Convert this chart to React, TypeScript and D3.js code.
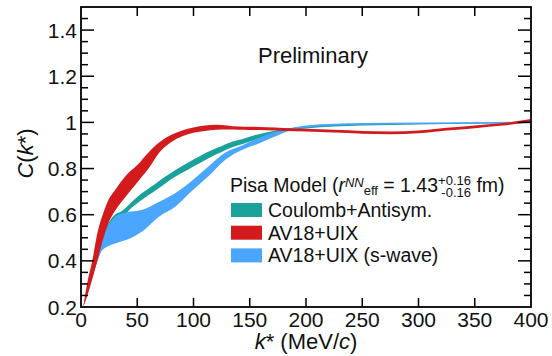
import React from 'react';
import * as d3 from 'd3';

// Coulomb+Antisym. band
const kTeal = [2, 10, 20, 30, 36, 45, 54, 65, 75, 84, 95, 105, 113, 125, 135, 143, 155, 172, 185, 200, 250, 300, 350, 400];
const tealLow = [0.2, 0.33, 0.47, 0.56, 0.585, 0.63, 0.664, 0.7, 0.735, 0.765, 0.795, 0.822, 0.844, 0.872, 0.893, 0.905, 0.925, 0.952, 0.966, 0.974, 0.986, 0.991, 0.994, 0.997];
const tealHigh = [0.2, 0.37, 0.52, 0.6, 0.615, 0.655, 0.693, 0.73, 0.765, 0.794, 0.825, 0.852, 0.873, 0.898, 0.917, 0.927, 0.945, 0.964, 0.975, 0.983, 0.993, 0.997, 0.999, 1.002];

// AV18+UIX (s-wave) band
const kBlue = [2, 10, 18, 25, 33, 40, 54, 69, 84, 98, 113, 128, 143, 158, 172, 187, 200, 250, 300, 350, 400];
const blueLow = [0.2, 0.33, 0.44, 0.465, 0.48, 0.49, 0.526, 0.59, 0.635, 0.7, 0.765, 0.837, 0.88, 0.909, 0.938, 0.967, 0.978, 0.99, 0.993, 0.995, 0.997];
const blueHigh = [0.2, 0.37, 0.5, 0.56, 0.6, 0.61, 0.62, 0.655, 0.694, 0.745, 0.808, 0.868, 0.9, 0.932, 0.958, 0.975, 0.987, 0.997, 0.999, 1.001, 1.003];

// AV18+UIX band
const kRed = [2, 5, 10, 15, 20, 25, 30, 40, 50, 60, 70, 80, 90, 100, 110, 120, 130, 140, 150, 165, 180, 200, 225, 250, 275, 300, 325, 350, 375, 400];
const redLow = [0.2, 0.24, 0.32, 0.41, 0.5, 0.57, 0.615, 0.68, 0.74, 0.8, 0.872, 0.914, 0.94, 0.955, 0.963, 0.968, 0.969, 0.968, 0.967, 0.966, 0.963, 0.96, 0.956, 0.951, 0.949, 0.953, 0.965, 0.975, 0.986, 1.003];
const redHigh = [0.2, 0.29, 0.4, 0.53, 0.61, 0.67, 0.705, 0.77, 0.815, 0.87, 0.915, 0.945, 0.965, 0.978, 0.986, 0.99, 0.987, 0.982, 0.981, 0.979, 0.976, 0.972, 0.968, 0.963, 0.961, 0.965, 0.977, 0.987, 0.997, 1.015];

const xTicks = [0, 50, 100, 150, 200, 250, 300, 350, 400];
const yTicks = [0.2, 0.4, 0.6, 0.8, 1, 1.2, 1.4];
const yTickLabels = ['0.2', '0.4', '0.6', '0.8', '1', '1.2', '1.4'];

const legendItems = ['Coulomb+Antisym.', 'AV18+UIX', 'AV18+UIX (s-wave)'];
const colors = ['#1aa19a', '#d31a1c', '#4aa6ff'];

const FONT = '"Liberation Sans", Arial, Helvetica, sans-serif';

export default function App() {
  const left = 81, right = 531, top = 7, bottom = 307;
  const x = d3.scaleLinear().domain([0, 400]).range([left, right]);
  const y = d3.scaleLinear().domain([0.2, 1.5]).range([bottom, top]);

  const band = (ks: number[], lo: number[], hi: number[]) =>
    d3.area<number>()
      .x((_, i) => x(ks[i]))
      .y0((_, i) => y(lo[i]))
      .y1((_, i) => y(hi[i]))
      .curve(d3.curveMonotoneX)(ks) || '';

  // drawing order: teal, blue, red on top
  const bands = [
    { d: band(kTeal, tealLow, tealHigh), c: colors[0] },
    { d: band(kBlue, blueLow, blueHigh), c: colors[2] },
    { d: band(kRed, redLow, redHigh), c: colors[1] },
  ];

  const yMinor = d3.range(0.25, 1.5, 0.05).filter(v => Math.abs(v * 5 - Math.round(v * 5)) > 0.01);

  return (
    <svg width={552} height={356} style={{ position: 'absolute', left: 0, top: 0, background: '#fff' }}
      fontFamily={FONT}>
      <defs>
        <clipPath id="plot">
          <rect x={left} y={top} width={right - left} height={bottom - top} />
        </clipPath>
      </defs>

      <g clipPath="url(#plot)">
        {bands.map((b, i) => <path key={i} d={b.d} fill={b.c} />)}
      </g>

      {/* frame and ticks */}
      <g stroke="#000" strokeWidth={1.5}>
        {xTicks.slice(1, -1).map(t => (
          <g key={t}>
            <line x1={x(t)} x2={x(t)} y1={bottom} y2={bottom - 9} />
            <line x1={x(t)} x2={x(t)} y1={top} y2={top + 9} />
          </g>
        ))}
        {yTicks.slice(1).map(t => (
          <g key={t}>
            <line x1={left} x2={left + 13} y1={y(t)} y2={y(t)} />
            <line x1={right} x2={right - 13} y1={y(t)} y2={y(t)} />
          </g>
        ))}
        {yMinor.map(t => (
          <g key={t}>
            <line x1={left} x2={left + 7} y1={y(t)} y2={y(t)} />
            <line x1={right} x2={right - 7} y1={y(t)} y2={y(t)} />
          </g>
        ))}
        <rect x={left} y={top} width={right - left} height={bottom - top} fill="none" strokeWidth={1.8} />
      </g>

      {/* tick labels */}
      <g fontSize={21} fill="#111">
        {xTicks.map(t => (
          <text key={t} x={x(t)} y={327} textAnchor="middle">{t}</text>
        ))}
        {yTicks.map((t, i) => (
          <text key={t} x={77} y={y(t)} dy="0.36em" textAnchor="end">{yTickLabels[i]}</text>
        ))}
      </g>

      {/* axis titles */}
      <text x={306} y={349} textAnchor="middle" fontSize={22} fill="#111">
        <tspan fontStyle="italic">k</tspan>* (MeV/<tspan fontStyle="italic">c</tspan>)
      </text>
      <text transform="translate(33,153.5) rotate(-90)" textAnchor="middle" fontSize={22} fill="#111">
        <tspan fontStyle="italic">C</tspan>(<tspan fontStyle="italic">k</tspan>*)
      </text>

      <text x={258} y={63} fontSize={22} fill="#111">Preliminary</text>

      {/* legend */}
      <text x={230} y={192} fontSize={19.5} fill="#111">
        Pisa Model (<tspan fontStyle="italic">r</tspan>
        <tspan fontSize={13} fontStyle="italic" dy={-5.5}>NN</tspan>
        <tspan fontSize={13} dy={8.5}>eff</tspan>
        <tspan dy={-3}>{' = 1.43'}</tspan>
        <tspan fontSize={13} dy={-7}>+0.16</tspan>
        <tspan fontSize={13} dx={-29.6} dy={11.5}>-0.16</tspan>
        <tspan dy={-4.5}>{' fm)'}</tspan>
      </text>
      {legendItems.map((name, i) => (
        <g key={name}>
          <rect x={231} y={203 + i * 22.7} width={31} height={14} fill={colors[i]} />
          <text x={268} y={217 + i * 22.7} fontSize={19.5} fill="#111">{name}</text>
        </g>
      ))}
    </svg>
  );
}
